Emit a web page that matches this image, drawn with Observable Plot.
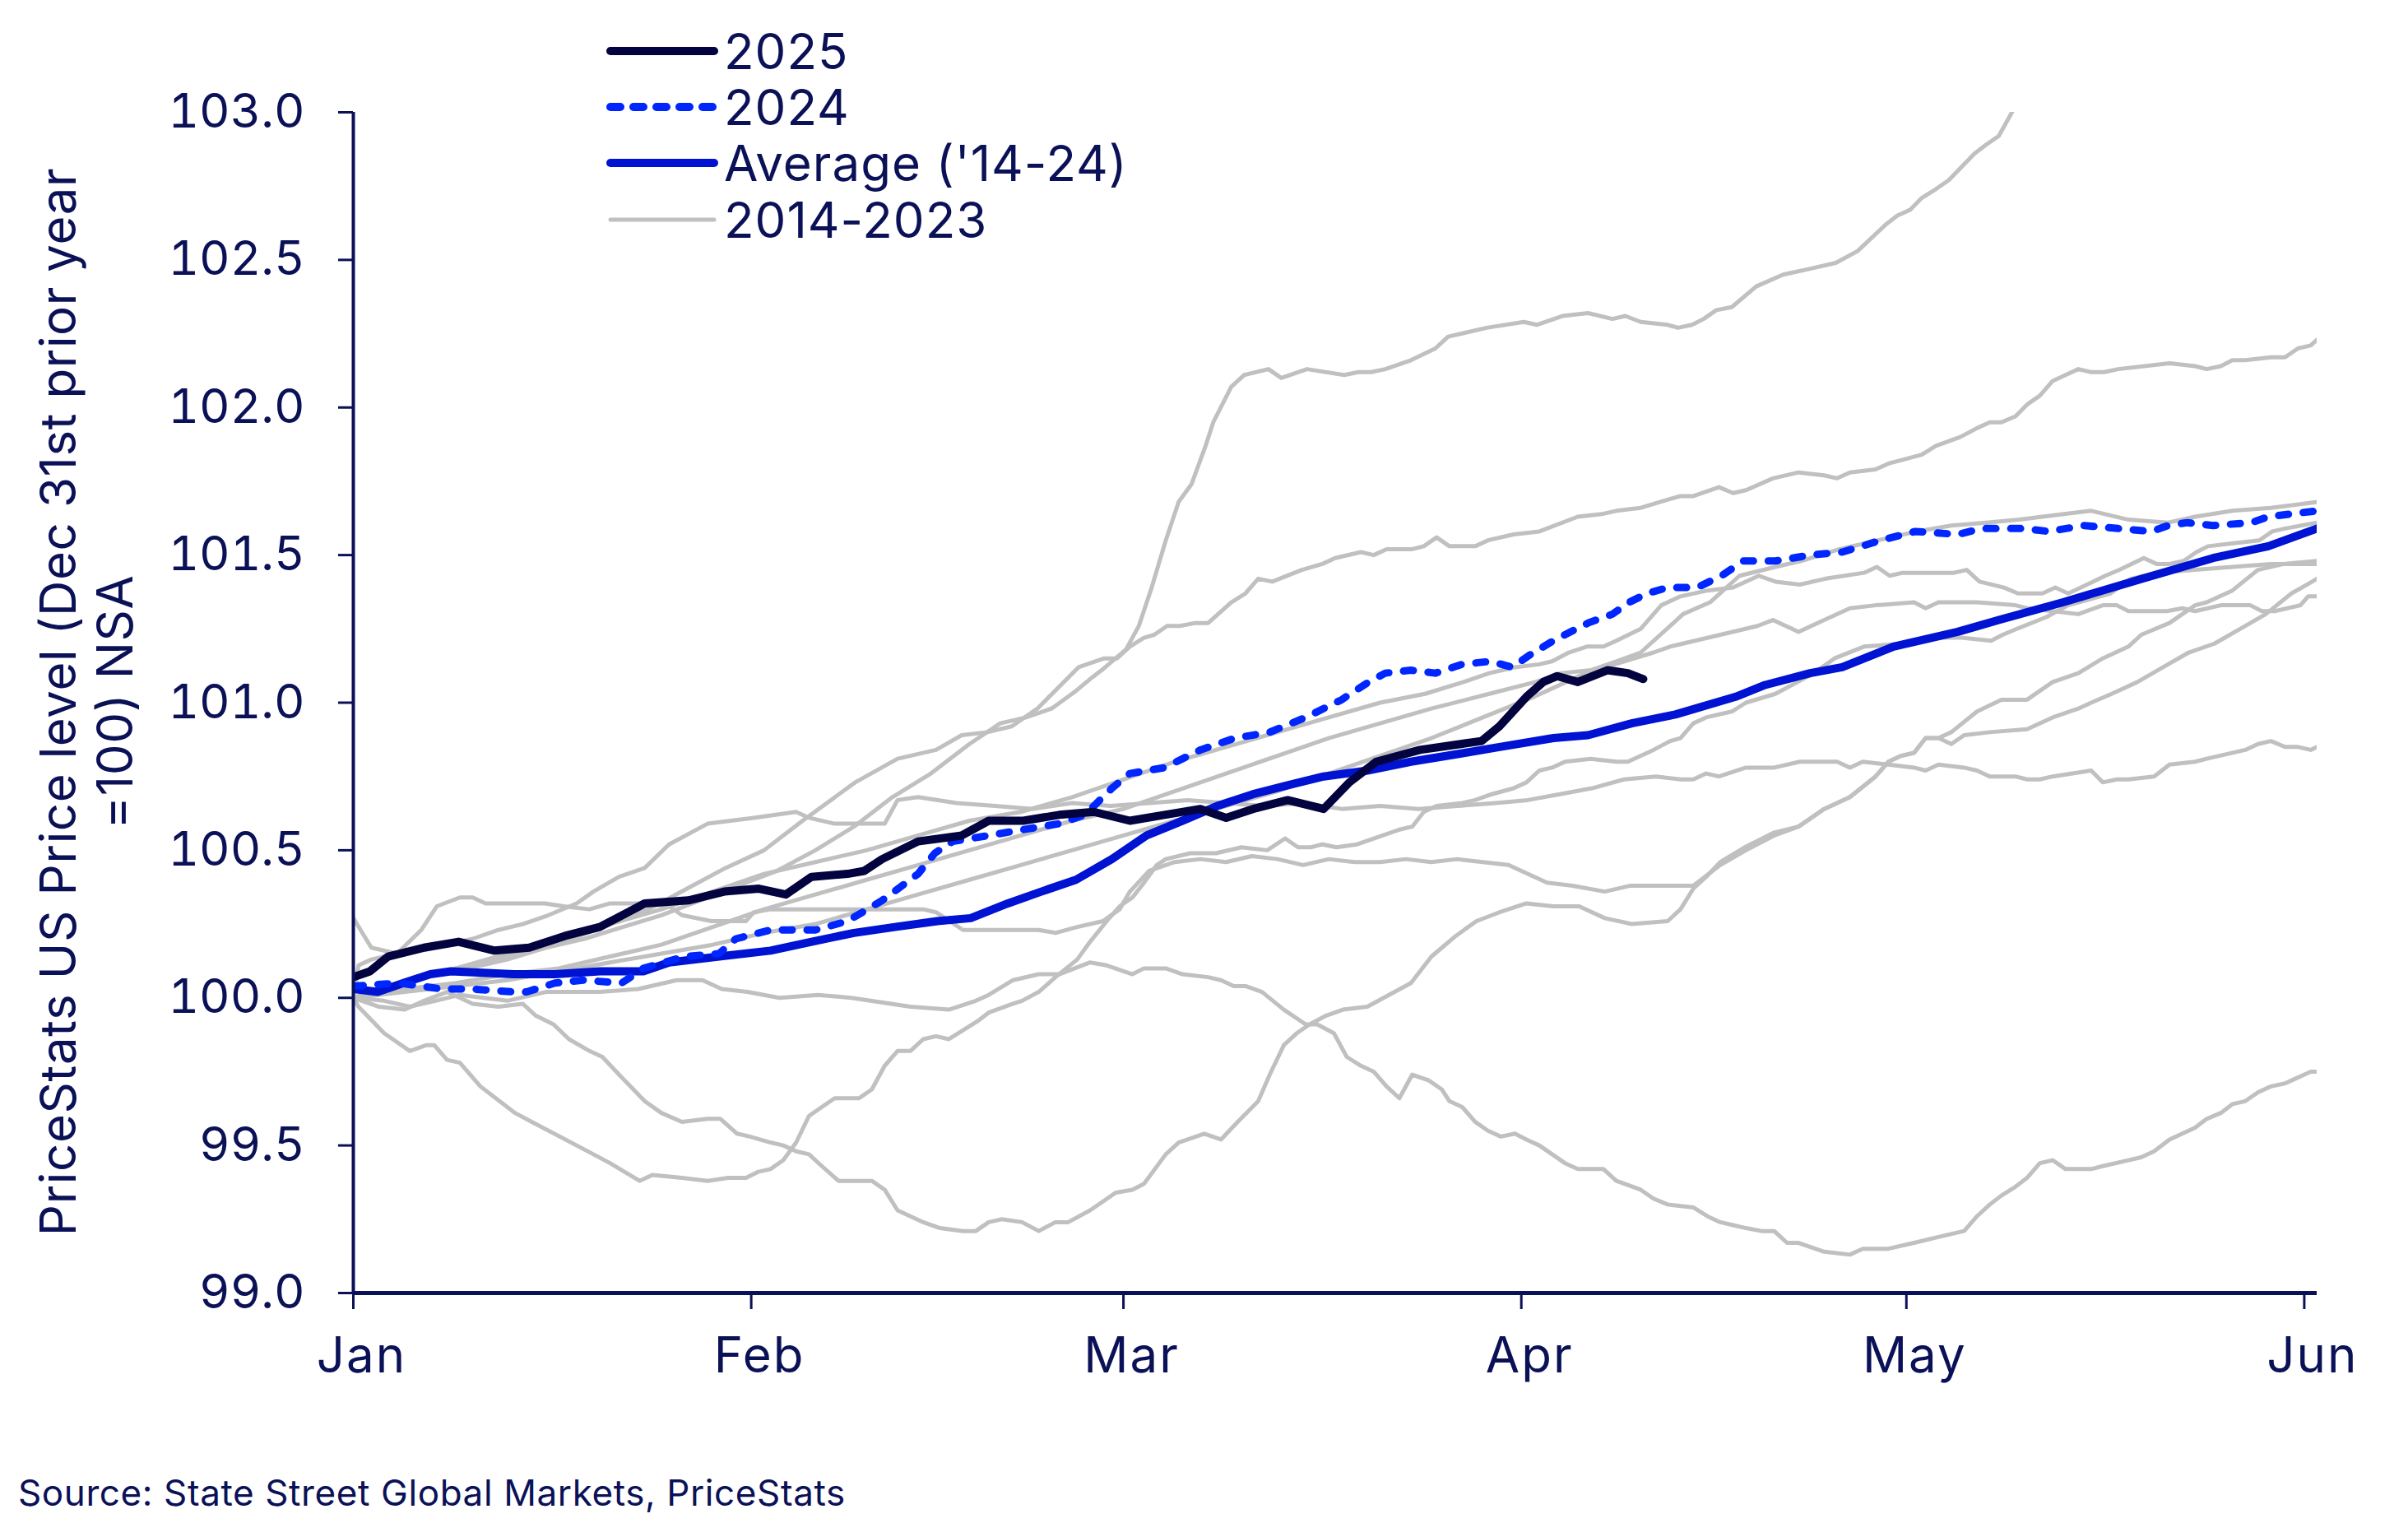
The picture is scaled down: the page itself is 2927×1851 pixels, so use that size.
<!DOCTYPE html>
<html>
<head>
<meta charset="utf-8">
<script src="https://cdn.jsdelivr.net/npm/d3@7"></script>
<script src="https://cdn.jsdelivr.net/npm/@observablehq/plot@0.6"></script>
<style>
  html, body { margin: 0; padding: 0; background: #ffffff; }
  #wrap { position: relative; width: 2927px; height: 1851px; overflow: hidden;
          font-family: Inter, "Noto Sans", sans-serif; color: #0b1157; }
  #chart { position: absolute; left: 0; top: 0; }
  #chart g[aria-label="x-axis tick label"] text { letter-spacing: 2px; }
  #ylabel { position: absolute; left: -695px; top: 784px; width: 1600px; height: 138px;
            transform: rotate(-90deg); transform-origin: 50% 50%;
            text-align: center; font-size: 60px; line-height: 69px; letter-spacing: 0.6px; white-space: nowrap; }
  .leg { position: absolute; left: 732px; height: 58px; display: flex; align-items: center;
         font-size: 60px; line-height: 58px; letter-spacing: 1px; white-space: nowrap; }
  .leg svg { display: block; }
  #source { position: absolute; left: 22px; top: 1792px; font-size: 44px; line-height: 44px; letter-spacing: 0.6px; white-space: nowrap; }
</style>
</head>
<body>
<div id="wrap">
  <div id="chart"></div>
  <div id="ylabel">PriceStats US Price level (Dec 31st prior year<br>=100) NSA</div>
  <div id="source">Source: State Street Global Markets, PriceStats</div>
</div>
<script>
// ---------- data: [days since Jan 1, index level] ----------
const line2025 = [[0,100.07],[1.3,100.09],[2.7,100.14],[5.5,100.17],[8.2,100.19],[11,100.16],[13.7,100.17],[16.5,100.21],[19.2,100.24],[22.7,100.32],[26.1,100.33],[28.9,100.36],[31.6,100.37],[33.7,100.35],[35.7,100.41],[38.5,100.42],[39.8,100.43],[41.2,100.47],[44,100.53],[47.4,100.55],[49.5,100.60],[52.2,100.60],[55,100.62],[57.7,100.63],[60.5,100.60],[63.2,100.62],[66,100.64],[68,100.61],[70.1,100.64],[72.8,100.67],[75.6,100.64],[77.6,100.73],[79.7,100.80],[83.1,100.84],[87.9,100.87],[89.3,100.92],[91.4,101.02],[92.7,101.07],[93.8,101.09],[95.4,101.07],[97.7,101.11],[99.3,101.10],[100.5,101.08]];

const line2024 = [[0,100.04],[3.6,100.05],[6.9,100.03],[9.2,100.03],[12.5,100.02],[13.5,100.02],[15.7,100.05],[17.9,100.06],[20.9,100.05],[22.6,100.10],[25.8,100.14],[28.5,100.15],[29.8,100.20],[32.5,100.23],[34.4,100.23],[36,100.23],[38.5,100.26],[41.2,100.33],[44,100.42],[45.3,100.49],[46.7,100.53],[49.5,100.55],[52.2,100.57],[55,100.59],[57,100.62],[59.1,100.71],[60.5,100.76],[63.2,100.78],[66,100.84],[68.7,100.88],[71.4,100.90],[74.2,100.95],[77,101.01],[79.1,101.07],[80.4,101.10],[82.4,101.11],[84.3,101.10],[86.4,101.13],[88.6,101.14],[90.3,101.12],[91.6,101.16],[93.5,101.21],[96.2,101.27],[98.1,101.30],[99.4,101.34],[100.8,101.37],[102.4,101.39],[104.7,101.39],[106.6,101.43],[108.3,101.48],[110.8,101.48],[113.5,101.50],[116,101.51],[119,101.55],[121.7,101.58],[125,101.57],[126.9,101.59],[130.2,101.59],[132.1,101.58],[134.8,101.60],[137.5,101.59],[140.1,101.58],[141.4,101.60],[142.9,101.61],[144.9,101.60],[147.9,101.61],[149.2,101.63],[153,101.65]];

const lineAvg = [[0,100.03],[1.9,100.02],[3.9,100.05],[6,100.08],[7.6,100.09],[12.5,100.08],[15.7,100.08],[19.2,100.09],[22.6,100.09],[24.6,100.12],[28.5,100.14],[32.5,100.16],[35.7,100.19],[39,100.22],[42.2,100.24],[45.5,100.26],[48.1,100.27],[51,100.32],[53.6,100.36],[56.3,100.40],[59.1,100.47],[61.8,100.55],[64.6,100.60],[67.3,100.65],[70.1,100.69],[72.8,100.72],[75.6,100.75],[79,100.77],[82.4,100.80],[86.6,100.83],[89.3,100.85],[93.5,100.88],[96.2,100.89],[99.6,100.93],[103,100.96],[107.7,101.02],[110,101.06],[113.5,101.10],[116,101.12],[120,101.19],[125,101.24],[128.2,101.28],[133.2,101.34],[139.4,101.42],[144.9,101.49],[149.2,101.53],[153,101.59]];

const grey2014 = [[0,100.0],[0.4,100.11],[1.4,100.13],[3.4,100.15],[5.3,100.16],[7.3,100.18],[9.3,100.20],[11.3,100.23],[13.2,100.25],[15.2,100.28],[17.4,100.32],[18.7,100.36],[20.7,100.41],[22.7,100.44],[24.6,100.52],[27.6,100.59],[31.2,100.61],[34.5,100.63],[35.5,100.61],[37.5,100.59],[41.4,100.59],[42.4,100.67],[44,100.68],[47,100.66],[50,100.65],[53,100.64],[56,100.66],[59,100.65],[62,100.66],[65,100.67],[68,100.66],[71,100.65],[74,100.66],[77,100.64],[80,100.65],[83,100.64],[86,100.65],[89,100.66],[91.5,100.67],[94,100.69],[96.5,100.71],[99,100.74],[101.5,100.75],[103.4,100.74],[104.4,100.74],[105.4,100.76],[106.4,100.75],[108.5,100.78],[110.7,100.78],[112.7,100.80],[114.6,100.80],[115.6,100.80],[116.6,100.78],[117.6,100.80],[119.6,100.79],[121.6,100.78],[122.5,100.77],[123.5,100.79],[125.5,100.78],[126.5,100.77],[127.5,100.75],[129.5,100.75],[130.4,100.74],[131.4,100.74],[132.4,100.75],[135.4,100.77],[136.3,100.73],[137.4,100.74],[138.3,100.74],[140.3,100.75],[141.5,100.79],[143.5,100.80],[144.4,100.81],[147.4,100.84],[148.4,100.86],[149.4,100.87],[150.5,100.85],[151.5,100.85],[152.5,100.84],[153,100.85]];

const grey2015 = [[0,100.0],[0.4,99.97],[2.4,99.88],[4.4,99.82],[5.7,99.84],[6.3,99.84],[7.3,99.79],[8.3,99.78],[9.9,99.70],[12.6,99.61],[13.9,99.58],[17.4,99.50],[20,99.44],[22.3,99.38],[23.3,99.40],[25.6,99.39],[27.6,99.38],[29.2,99.39],[30.6,99.39],[31.5,99.41],[32.5,99.42],[33.5,99.45],[34.5,99.51],[35.5,99.60],[37.5,99.66],[39.4,99.66],[40.4,99.69],[41.4,99.77],[42.4,99.82],[43.4,99.82],[44.4,99.86],[45.4,99.87],[46.4,99.86],[47.5,99.89],[48.6,99.92],[49.5,99.95],[51.4,99.98],[52.1,99.99],[53.4,100.02],[54.7,100.07],[56.4,100.13],[57.4,100.19],[58.7,100.26],[59.7,100.31],[60.7,100.34],[61.6,100.39],[62.6,100.45],[63.3,100.47],[65.2,100.49],[67.2,100.49],[69.2,100.51],[71.2,100.50],[72.6,100.54],[73.6,100.51],[74.6,100.51],[75.5,100.52],[76.6,100.51],[78.2,100.52],[79.5,100.54],[81.5,100.57],[82.5,100.58],[83.4,100.63],[84.4,100.65],[86.4,100.66],[87.4,100.67],[88.7,100.69],[90.4,100.71],[91.4,100.73],[92.4,100.77],[93.4,100.78],[94.4,100.80],[96.4,100.81],[98.4,100.80],[99.3,100.80],[101.3,100.84],[102.6,100.87],[103.4,100.88],[104.4,100.93],[105.4,100.95],[107.4,100.97],[108.5,101.0],[110.8,101.03],[113.8,101.10],[115.4,101.15],[117.7,101.19],[120.7,101.20],[123.6,101.22],[125.3,101.22],[127.6,101.21],[128.5,101.23],[129.6,101.25],[131.9,101.29],[133.6,101.33],[135.3,101.35],[136.9,101.37],[138.5,101.42],[140.5,101.44],[143.5,101.45],[146.4,101.46],[149.4,101.47],[153,101.47]];

const grey2016 = [[0,100.0],[2,99.97],[4,99.96],[5.5,99.99],[7.3,100.02],[9.3,99.98],[11.3,99.97],[13.2,99.98],[14.2,99.94],[15.6,99.91],[16.8,99.86],[18.4,99.82],[19.4,99.80],[20.7,99.74],[22.7,99.65],[24,99.61],[25.6,99.58],[27.6,99.59],[28.6,99.59],[29.9,99.54],[30.9,99.53],[32.5,99.51],[33.5,99.50],[34.5,99.48],[35.5,99.47],[36.5,99.43],[37.8,99.38],[39.1,99.38],[40.4,99.38],[41.4,99.35],[42.4,99.28],[44.4,99.24],[45.7,99.22],[47.5,99.21],[48.5,99.21],[49.5,99.24],[50.5,99.25],[52.1,99.24],[53.4,99.21],[54.7,99.24],[55.7,99.24],[57.4,99.28],[59.4,99.34],[60.7,99.35],[61.6,99.37],[63.3,99.47],[64.3,99.51],[66.3,99.54],[67.6,99.52],[68.9,99.58],[70.5,99.65],[71.4,99.74],[72.5,99.84],[73.5,99.88],[74.5,99.91],[75.8,99.94],[77.1,99.96],[79,99.97],[82.4,100.05],[84,100.14],[85.9,100.21],[87.5,100.26],[89.3,100.29],[91.4,100.32],[93.5,100.31],[95.5,100.31],[97.5,100.27],[99.6,100.25],[102.4,100.26],[103.4,100.30],[104.4,100.37],[105.4,100.41],[106.5,100.46],[108.4,100.51],[110.7,100.56],[112.6,100.58],[114.6,100.64],[116.6,100.68],[118.6,100.75],[119.6,100.80],[120.6,100.82],[121.6,100.83],[122.5,100.88],[123.5,100.88],[124.5,100.90],[126.5,100.97],[128.4,101.01],[130.4,101.01],[132.4,101.07],[134.4,101.10],[136.3,101.15],[138.3,101.19],[139.3,101.23],[141.5,101.27],[143.5,101.33],[144.4,101.34],[146.4,101.38],[148.4,101.45],[150.4,101.47],[153,101.48]];

const grey2017 = [[0,100.0],[4,100.05],[8,100.1],[12,100.15],[16,100.2],[20,100.25],[24,100.3],[28,100.36],[32,100.42],[36,100.46],[40,100.5],[44,100.55],[48,100.6],[52,100.63],[56,100.68],[60,100.74],[64,100.8],[68,100.85],[72,100.9],[76,100.95],[80,101.0],[83.5,101.03],[86.5,101.07],[88.5,101.10],[90.5,101.12],[92.4,101.13],[93.4,101.14],[94.7,101.17],[96.1,101.19],[97.4,101.19],[98.4,101.21],[100.3,101.25],[101.9,101.33],[103.4,101.36],[105.5,101.38],[107.5,101.39],[109.5,101.43],[110.8,101.41],[112.7,101.40],[114.7,101.42],[117.7,101.44],[118.7,101.46],[119.7,101.43],[120.7,101.44],[124.7,101.44],[125.7,101.45],[126.7,101.41],[128.6,101.39],[129.7,101.37],[131.6,101.37],[132.6,101.39],[133.6,101.37],[134.6,101.39],[136.5,101.43],[137.6,101.45],[139.5,101.49],[140.5,101.47],[141.5,101.47],[142.6,101.48],[143.6,101.51],[144.5,101.53],[146.5,101.54],[148.5,101.55],[149.5,101.58],[150.5,101.59],[153,101.61]];

const grey2018 = [[0,100.0],[4,100.03],[8,100.05],[12,100.08],[16,100.1],[20,100.14],[24,100.18],[28,100.24],[32,100.3],[36,100.35],[40,100.4],[44,100.45],[48,100.5],[52,100.55],[56,100.6],[60,100.64],[64,100.7],[68,100.76],[72,100.82],[76,100.88],[80,100.93],[84,100.98],[88.5,101.03],[92.1,101.07],[94.1,101.10],[96.4,101.11],[98.4,101.14],[100.3,101.17],[102.6,101.26],[103.6,101.30],[105.7,101.34],[108,101.43],[110.8,101.46],[112.8,101.48],[115.8,101.52],[118.8,101.55],[121.8,101.58],[124.5,101.60],[127.2,101.61],[129.8,101.62],[133.4,101.64],[135.4,101.65],[138.3,101.62],[141.4,101.61],[143.5,101.63],[146.4,101.65],[149.4,101.66],[153,101.68]];

const grey2019 = [[0,100.0],[4,100.02],[8,100.04],[12,100.06],[16,100.09],[20,100.12],[24,100.15],[28,100.18],[32,100.22],[36,100.25],[40,100.3],[44,100.35],[48,100.4],[52,100.45],[56,100.5],[60,100.55],[64,100.6],[68,100.65],[72,100.7],[76,100.76],[80,100.82],[84,100.88],[88,100.95],[92,101.02],[96,101.1],[101.3,101.17],[102.6,101.19],[106.5,101.23],[109.4,101.26],[110.6,101.28],[112.6,101.24],[114.6,101.28],[116.6,101.32],[118.6,101.33],[121.6,101.34],[122.5,101.32],[123.5,101.34],[126.5,101.34],[129.5,101.33],[130.4,101.32],[132.4,101.31],[134.4,101.30],[136.3,101.33],[137.4,101.33],[138.3,101.31],[141.3,101.31],[142.5,101.32],[143.5,101.31],[145.5,101.33],[147.8,101.33],[148.7,101.31],[149.7,101.31],[151.7,101.33],[152.3,101.36],[153,101.36]];

const grey2020 = [[0,100.0],[2.4,99.99],[4.4,99.97],[6.4,99.99],[8.3,100.01],[12,99.99],[15,100.02],[19.2,100.02],[22.2,100.03],[25.2,100.06],[27.2,100.06],[28.7,100.03],[30.7,100.02],[33.2,100.0],[36.2,100.01],[38.8,100.0],[43.4,99.97],[46.4,99.96],[48.5,99.99],[49.5,100.01],[51.4,100.06],[53.4,100.08],[55,100.08],[57.4,100.12],[58.7,100.11],[60.7,100.08],[61.6,100.10],[63.3,100.10],[64.6,100.08],[66.6,100.07],[67.6,100.06],[68.6,100.04],[69.5,100.04],[70.8,100.02],[72.5,99.96],[74.2,99.91],[75.1,99.91],[76.4,99.88],[77.4,99.80],[78.5,99.77],[79.5,99.75],[80.5,99.70],[81.5,99.66],[82.5,99.74],[83.8,99.72],[84.8,99.69],[85.4,99.65],[86.4,99.63],[87.4,99.58],[88.4,99.55],[89.4,99.53],[90.5,99.54],[91.4,99.52],[92.4,99.50],[93.4,99.47],[94.4,99.44],[95.4,99.42],[97.4,99.42],[98.4,99.38],[100.3,99.35],[101.3,99.32],[102.4,99.30],[104.4,99.29],[105.5,99.26],[106.5,99.24],[107.5,99.23],[108.5,99.22],[109.7,99.21],[110.7,99.21],[111.7,99.17],[112.6,99.17],[114.6,99.14],[116.6,99.13],[117.6,99.15],[119.6,99.15],[121.6,99.17],[123.5,99.19],[125.5,99.21],[126.5,99.26],[127.5,99.30],[128.4,99.33],[129.5,99.36],[130.4,99.39],[131.4,99.44],[132.4,99.45],[133.4,99.42],[135.4,99.42],[136.3,99.43],[138.3,99.45],[139.3,99.46],[140.3,99.48],[141.5,99.52],[142.5,99.54],[143.5,99.56],[144.4,99.59],[145.5,99.61],[146.4,99.64],[147.4,99.65],[148.4,99.68],[149.4,99.70],[150.5,99.71],[151.5,99.73],[152.5,99.75],[153,99.75]];

const grey2021 = [[0,100.0],[2,100.03],[5,100.06],[8,100.1],[11,100.13],[14,100.17],[17,100.2],[20,100.25],[23,100.3],[26,100.37],[29,100.44],[32,100.5],[35,100.6],[39.1,100.73],[42.4,100.81],[45.4,100.84],[47.4,100.89],[49.4,100.90],[51.3,100.92],[53.3,100.98],[56.5,101.12],[58.5,101.15],[59.5,101.15],[60.5,101.19],[61.6,101.22],[62.4,101.23],[63.4,101.26],[64.4,101.26],[65.6,101.27],[66.6,101.27],[68.4,101.34],[69.5,101.37],[70.5,101.42],[71.6,101.41],[73.9,101.45],[75.5,101.47],[76.5,101.49],[78.5,101.51],[79.5,101.50],[80.5,101.52],[82.5,101.52],[83.4,101.53],[84.4,101.56],[85.4,101.53],[87.4,101.53],[88.4,101.55],[90.4,101.57],[92.4,101.58],[95.4,101.63],[97.4,101.64],[98.4,101.65],[100.3,101.66],[102.6,101.69],[103.4,101.70],[104.4,101.70],[106.4,101.73],[107.5,101.71],[108.5,101.72],[110.6,101.76],[112.6,101.78],[114.6,101.77],[115.6,101.76],[116.6,101.78],[118.6,101.79],[119.6,101.81],[122.2,101.84],[123.3,101.87],[125.2,101.90],[126.5,101.93],[127.5,101.95],[128.4,101.95],[129.5,101.97],[130.4,102.01],[131.4,102.04],[132.4,102.09],[133.4,102.11],[134.4,102.13],[135.4,102.12],[136.4,102.12],[137.5,102.13],[141.5,102.15],[143.5,102.14],[144.4,102.13],[145.5,102.14],[146.4,102.16],[147.4,102.16],[149.4,102.17],[150.5,102.17],[151.5,102.20],[152.5,102.21],[153,102.23]];

const grey2022 = [[0,100.0],[3,100.04],[6,100.08],[9,100.1],[12,100.13],[15,100.17],[18,100.2],[21,100.24],[24,100.28],[27,100.33],[30,100.38],[33,100.43],[36,100.5],[39,100.58],[42,100.68],[45,100.76],[48,100.86],[50.4,100.93],[52.4,100.95],[54.4,100.98],[56.3,101.04],[57.4,101.08],[58.3,101.11],[60.2,101.18],[61.2,101.26],[62.2,101.39],[63.3,101.55],[64.3,101.68],[65.3,101.74],[66.4,101.87],[67,101.95],[68.4,102.07],[69.4,102.11],[71.3,102.13],[72.3,102.10],[74.3,102.13],[77.2,102.11],[78.3,102.12],[79.3,102.12],[80.4,102.13],[82.4,102.16],[84.3,102.20],[85.3,102.24],[88.3,102.27],[91.2,102.29],[92.2,102.28],[94.2,102.31],[96.2,102.32],[98.1,102.30],[99.1,102.31],[100.3,102.29],[102.4,102.28],[103.2,102.27],[104.3,102.28],[105.2,102.30],[106.2,102.33],[107.4,102.34],[109.3,102.41],[111.4,102.45],[113.5,102.47],[115.5,102.49],[117.2,102.53],[119.4,102.62],[120.3,102.65],[121.3,102.67],[122.2,102.71],[123.3,102.74],[124.3,102.77],[126.3,102.86],[127.2,102.89],[128.2,102.92],[129.1,102.99],[129.6,103.03]];

const grey2023 = [[0,100.27],[1.4,100.17],[3.4,100.15],[5.3,100.23],[6.5,100.31],[8.3,100.34],[9.3,100.34],[10.3,100.32],[12.3,100.32],[14.9,100.32],[16.4,100.31],[18.4,100.30],[20,100.32],[22.7,100.32],[24.6,100.31],[25.6,100.28],[27.9,100.26],[30.6,100.26],[31.2,100.29],[32.5,100.30],[35.8,100.30],[38.5,100.30],[40.4,100.30],[44.4,100.30],[45.4,100.29],[47.5,100.23],[49.5,100.23],[51.4,100.23],[53.4,100.23],[54.7,100.22],[56.4,100.24],[58.4,100.26],[59.7,100.30],[60.5,100.36],[62,100.43],[64,100.46],[66,100.47],[68,100.46],[70,100.48],[72,100.47],[74,100.45],[76,100.47],[78,100.46],[80,100.46],[82,100.47],[84,100.46],[86,100.47],[88,100.46],[90,100.45],[91.5,100.42],[93,100.39],[95,100.38],[97.5,100.36],[99.5,100.38],[101.9,100.38],[104.4,100.38],[106.5,100.45],[108.5,100.5],[110.7,100.55],[112.6,100.58],[114.6,100.64],[116.6,100.68],[118.6,100.75],[119.6,100.80],[120.6,100.82],[121.6,100.83],[122.5,100.88],[123.5,100.88],[124.5,100.86],[125.5,100.89],[127.5,100.90],[130.4,100.91],[132.4,100.95],[134.4,100.98],[135.4,101.0],[137,101.03],[139,101.07],[141,101.12],[143,101.17],[145,101.2],[147,101.25],[149,101.3],[151,101.37],[153,101.42]];

const greyYears = ["2014","2015","2016","2017","2018","2019","2020","2021","2022","2023"];
const greySeries = [grey2014, grey2015, grey2016, grey2017, grey2018, grey2019, grey2020, grey2021, grey2022, grey2023];

const monthTicks = ["2024-01-01","2024-02-01","2024-03-01","2024-04-01","2024-05-01","2024-06-01"];
const yTicks = [99.0, 99.5, 100.0, 100.5, 101.0, 101.5, 102.0, 102.5, 103.0];
const xDomain = ["2024-01-01","2024-06-02"];
const yDomain = [99, 103];

const legendLabels = ["2025", "2024", "Average ('14-24)", "2014-2023"];

// ---------- styling ----------
const NAVY = "#0b1157";
const C2025 = "#02033f";
const C2024 = "#0026ff";
const CAVG = "#0012d2";
const CGREY = "#c0c0c0";

// ---------- build tables ----------
const base = Date.UTC(2024, 0, 1);
const asDate = d => new Date(base + d * 86400000);
const toRows = (arr, name) => arr.map(([d, v]) => ({date: asDate(d), value: v, series: name}));
const greyRows = greySeries.flatMap((s, i) => toRows(s, greyYears[i]));
const rows2025 = toRows(line2025, "2025");
const rows2024 = toRows(line2024, "2024");
const rowsAvg = toRows(lineAvg, "avg");
const xd = xDomain.map(s => new Date(s));
const monthDates = monthTicks.map(s => new Date(s));

const chart = Plot.plot({
  width: 2927,
  height: 1720,
  marginLeft: 429,
  marginRight: 111,
  marginTop: 136,
  marginBottom: 149,
  x: {type: "utc", domain: xd},
  y: {domain: yDomain},
  style: {fontFamily: "Inter, 'Noto Sans', sans-serif", fontSize: "58px", color: NAVY, background: "#ffffff"},
  marks: [
    Plot.line(greyRows, {x: "date", y: "value", z: "series", stroke: CGREY, strokeWidth: 5, strokeLinejoin: "round", clip: true}),
    Plot.line(rowsAvg, {x: "date", y: "value", stroke: CAVG, strokeWidth: 10, strokeLinejoin: "round", strokeLinecap: "round", clip: true}),
    Plot.line(rows2024, {x: "date", y: "value", stroke: C2024, strokeWidth: 9, strokeDasharray: "12,18", strokeLinecap: "round", strokeLinejoin: "round", clip: true}),
    Plot.line(rows2025, {x: "date", y: "value", stroke: C2025, strokeWidth: 10, strokeLinejoin: "round", strokeLinecap: "round", clip: true}),
    Plot.ruleX([xd[0]], {stroke: NAVY, strokeWidth: 4}),
    Plot.ruleY([yDomain[0]], {stroke: NAVY, strokeWidth: 5}),
    Plot.axisY({ticks: yTicks, tickSize: 18, tickPadding: 41, tickFormat: d => d.toFixed(1), stroke: NAVY, strokeWidth: 3, fontSize: 58, label: null}),
    // tick marks only
    Plot.axisX({ticks: monthDates, tickSize: 20, tickFormat: () => "", stroke: NAVY, strokeWidth: 3, label: null}),
    // month labels, nudged slightly right as in the original
    Plot.axisX({ticks: monthDates, tickSize: 0, tickPadding: 54, dx: 10, tickFormat: d3.utcFormat("%b"), fontSize: 60, label: null})
  ]
});
document.getElementById("chart").appendChild(chart);

// ---------- legend ----------
const legendStyles = [
  {stroke: C2025, width: 10, dash: null},
  {stroke: C2024, width: 10, dash: "12,16"},
  {stroke: CAVG, width: 10, dash: null},
  {stroke: CGREY, width: 5, dash: null}
];
const legendTops = [33, 101, 169, 238];
const wrap = document.getElementById("wrap");
legendLabels.forEach((label, i) => {
  const st = legendStyles[i];
  const row = document.createElement("div");
  row.className = "leg";
  row.style.top = legendTops[i] + "px";
  const ns = "http://www.w3.org/2000/svg";
  const svg = document.createElementNS(ns, "svg");
  svg.setAttribute("width", 148);
  svg.setAttribute("height", 20);
  const ln = document.createElementNS(ns, "line");
  ln.setAttribute("x1", 10); ln.setAttribute("x2", 136);
  ln.setAttribute("y1", 10); ln.setAttribute("y2", 10);
  ln.setAttribute("stroke", st.stroke);
  ln.setAttribute("stroke-width", st.width);
  ln.setAttribute("stroke-linecap", "round");
  if (st.dash) ln.setAttribute("stroke-dasharray", st.dash);
  svg.appendChild(ln);
  const span = document.createElement("span");
  span.textContent = label;
  row.appendChild(svg);
  row.appendChild(span);
  wrap.appendChild(row);
});
</script>
</body>
</html>
